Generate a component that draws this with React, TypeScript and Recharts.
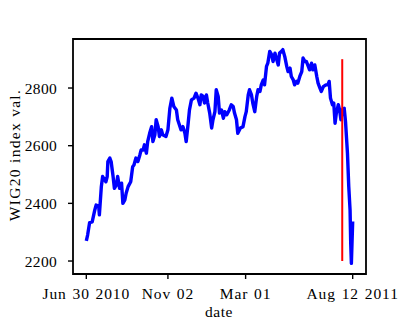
import React from 'react';
import { ComposedChart, Line, XAxis, YAxis, ReferenceArea, ReferenceLine } from 'recharts';

// days since 2010-06-30 and WIG20 closing values
const days = [
    0, 2, 5, 9, 13, 15, 19, 20, 23, 25, 30, 32, 33, 36, 38, 41, 43, 46, 48, 51,
    54, 56, 59, 61, 64, 68, 71, 73, 76, 79, 82, 84, 87, 89, 92, 94, 97, 100, 102, 105,
    107, 110, 112, 115, 117, 122, 125, 128, 131, 134, 138, 140, 145, 148, 151, 153, 156, 158, 161, 165,
    168, 171, 174, 176, 179, 181, 184, 186, 189, 192, 194, 197, 199, 202, 204, 207, 210, 212, 215, 219,
    222, 225, 227, 230, 232, 236, 240, 243, 245, 248, 250, 253, 255, 258, 261, 263, 266, 268, 271, 273,
    276, 278, 281, 284, 286, 289, 291, 294, 296, 299, 301, 304, 307, 309, 312, 314, 317, 319, 322, 324,
    327, 330, 332, 335, 337, 340, 342, 345, 347, 350, 353, 355, 358, 360, 363, 367, 370, 372, 374, 377,
    379, 381, 383, 386, 388, 390, 392, 395, 397, 400, 402, 404, 405, 406, 408,
];
const values = [
    2270, 2290, 2333, 2336, 2377, 2394, 2389, 2360, 2458, 2493, 2475, 2493, 2545, 2557, 2545, 2493, 2452, 2464, 2493, 2452,
    2470, 2400, 2412, 2435, 2458, 2475, 2527, 2533, 2557, 2545, 2568, 2585, 2585, 2603, 2574, 2614, 2643, 2666, 2614, 2638,
    2690, 2666, 2632, 2655, 2638, 2632, 2655, 2730, 2765, 2736, 2724, 2690, 2655, 2666, 2643, 2614, 2678, 2724, 2759, 2765,
    2782, 2765, 2742, 2776, 2771, 2748, 2776, 2748, 2713, 2661, 2690, 2718, 2794, 2771, 2713, 2724, 2695, 2718, 2707, 2724,
    2742, 2736, 2713, 2690, 2643, 2661, 2666, 2701, 2718, 2776, 2794, 2776, 2748, 2718, 2771, 2794, 2788, 2811, 2828, 2811,
    2875, 2886, 2927, 2915, 2892, 2921, 2904, 2880, 2921, 2927, 2933, 2909, 2875, 2857, 2869, 2840, 2828, 2811, 2823, 2817,
    2840, 2857, 2904, 2892, 2892, 2875, 2863, 2886, 2863, 2880, 2840, 2817, 2799, 2788, 2805, 2811, 2811, 2823, 2765, 2742,
    2748, 2678, 2713, 2742, 2724, 2690, 2724, 2730, 2684, 2574, 2458, 2377, 2261, 2192, 2337,
];

// vertical marker
const markerDay = 392;
const markerRange = [2200, 2900];

const xTicks = [0, 125, 244, 408];
const xTickLabels = ['Jun 30 2010', 'Nov 02', 'Mar 01', 'Aug 12 2011'];
const yTicks = [2200, 2400, 2600, 2800];

const xDomain = [-20.4, 428.4];
const yDomain = [2155, 2970];

const data = days.map((d, i) => ({ d, v: values[i] }));

const font = '"Liberation Serif", "DejaVu Serif", serif';
const fs = 15.5;

const XTick = (props: any) => {
    const { x, y, payload } = props;
    const idx = xTicks.indexOf(payload.value);
    return (
        <text x={x} y={y + 16} textAnchor="middle" fontFamily={font} fontSize={fs} fill="#000" style={{ wordSpacing: '1px', letterSpacing: '0.9px' }}>
            {xTickLabels[idx]}
        </text>
    );
};

const YTick = (props: any) => {
    const { x, y, payload } = props;
    return (
        <text x={x} y={y} dy="0.36em" textAnchor="end" fontFamily={font} fontSize={fs} fill="#000" style={{ letterSpacing: '0.3px' }}>
            {payload.value}
        </text>
    );
};

const App: React.FC = () => {
    return (
        <div style={{ position: 'absolute', left: 0, top: 0, width: 407, height: 326, background: '#fff' }}>
            <ComposedChart width={407} height={326} data={data} margin={{ top: 39, right: 41, bottom: 0, left: 0 }}>
                <XAxis
                    dataKey="d"
                    type="number"
                    domain={xDomain}
                    ticks={xTicks}
                    axisLine={false}
                    tickSize={5}
                    tickMargin={4}
                    tickLine={{ stroke: '#000', strokeWidth: 1.4 }}
                    tick={<XTick />}
                    height={52}
                    allowDataOverflow
                    label={() => (
                        <text x={219} y={317} textAnchor="middle" fontFamily={font} fontSize={fs} fill="#000" style={{ letterSpacing: '0.5px' }}>date</text>
                    )}
                />
                <YAxis
                    type="number"
                    domain={yDomain}
                    ticks={yTicks}
                    axisLine={false}
                    tickSize={5}
                    tickMargin={11}
                    tickLine={{ stroke: '#000', strokeWidth: 1.4 }}
                    tick={<YTick />}
                    width={73}
                    allowDataOverflow
                    label={() => (
                        <text x={14} y={155} transform="rotate(-90 14 155)" textAnchor="middle" dominantBaseline="central" fontFamily={font} fontSize={fs} fill="#000" style={{ letterSpacing: '1.3px' }}>
                            WIG20 index val.
                        </text>
                    )}
                />
                <ReferenceArea x1={xDomain[0]} x2={xDomain[1]} y1={yDomain[0]} y2={yDomain[1]} fill="none" stroke="#000" strokeWidth={1.8} ifOverflow="visible" />
                <Line
                    dataKey="v"
                    stroke="#0000ff"
                    strokeWidth={3.4}
                    dot={false}
                    strokeLinejoin="round"
                    isAnimationActive={false}
                />
                <ReferenceLine
                    segment={[{ x: markerDay, y: markerRange[0] }, { x: markerDay, y: markerRange[1] }]}
                    stroke="#ff0000"
                    strokeWidth={2}
                />
            </ComposedChart>
        </div>
    );
};

export default App;
